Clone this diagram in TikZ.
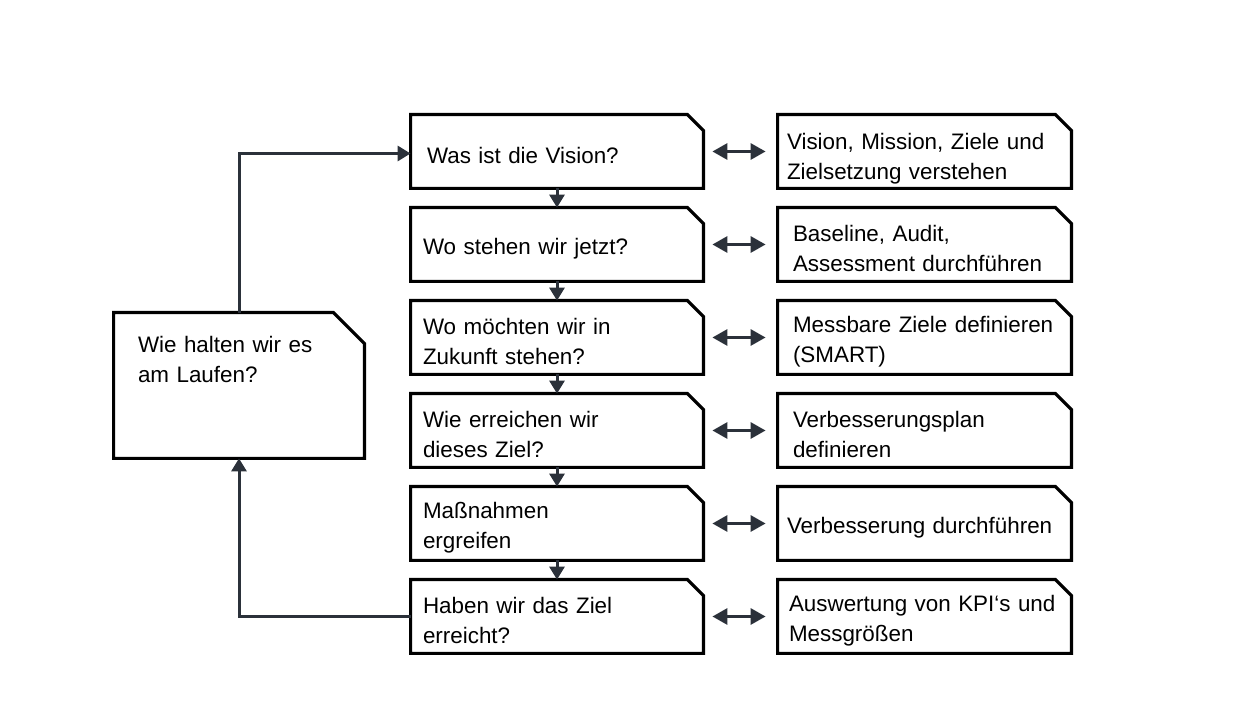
\documentclass[tikz,border=0pt]{standalone}
\usepackage{fontspec}
\setmainfont{Liberation Sans}
\usetikzlibrary{arrows.meta}
\definecolor{arrowgray}{HTML}{2B313A}
\tikzset{
	textbox/.style={rectangle, inner ysep=3pt, align=left,
		font=\fontsize{11.2}{15}\selectfont},
	qbox/.style={textbox, minimum width=146pt, minimum height=36.5pt, text width=134pt,
		inner xsep=6pt, execute at begin node={\rule{0pt}{12pt}}},
	abox/.style={qbox, minimum width=146.5pt, text width=137.5pt, inner xsep=4.5pt},
	hbox/.style={textbox, minimum width=125pt, minimum height=72.5pt, text width=101pt,
		inner xsep=12pt},
	outline/.style={draw=black, line width=1.6pt, line join=miter},
	down/.style={draw=arrowgray, line width=1.5pt, -{Triangle[width=7.5pt,length=6.5pt]}},
	both/.style={draw=arrowgray, line width=1.5pt,
		{Triangle[width=8pt,length=7.5pt]}-{Triangle[width=8pt,length=7.5pt]},
		shorten <=4.5pt, shorten >=6pt},
}
\begin{document}
\begin{tikzpicture}[x=0.5pt,y=-0.5pt]
		\useasboundingbox (0,0) rectangle (1260,705);
		
		\node[qbox] (B1) at (557,151.5) {\hspace*{2pt}Was ist die Vision?};
		\node[qbox] (B2) at (557,244.5) {Wo stehen wir jetzt?};
		\node[qbox] (B3) at (557,337.5) {Wo möchten wir in\\Zukunft stehen?};
		\node[qbox] (B4) at (557,430.5) {Wie erreichen wir\\dieses Ziel?};
		\node[qbox] (B5) at (557,523.5) {Maßnahmen\\ergreifen};
		\node[qbox] (B6) at (557,616.5) {Haben wir das Ziel\\erreicht?};
		
		\node[abox, inner ysep=1pt] (A1) at (924.5,151.5) {\rule{0pt}{15pt}Vision, Mission, Ziele und\\Zielsetzung verstehen};
		\node[abox] (A2) at (924.5,244.5) {\hspace*{3pt}Baseline, Audit,\\\hspace*{3pt}Assessment durchführen};
		\node[abox] (A3) at (924.5,337.5) {\hspace*{3pt}Messbare Ziele definieren\\\hspace*{3pt}(SMART)};
		\node[abox] (A4) at (924.5,430.5) {\hspace*{3pt}Verbesserungsplan\\\hspace*{3pt}definieren};
		\node[abox] (A5) at (924.5,523.5) {Verbesserung durchführen};
		\node[abox] (A6) at (924.5,616.5) {\hspace*{1pt}Auswertung von KPI‘s und\\\hspace*{1pt}Messgrößen};
		
		\node[hbox] (H) at (239,385.5) {Wie halten wir es\\am Laufen?\\[11pt]\mbox{}};
		
		% cut corner outlines
		\foreach \n in {B1,B2,B3,B4,B5,B6,A1,A2,A3,A4,A5,A6}
		\draw[outline] (\n.north west) -- ([xshift=-8pt]\n.north east)
			-- ([yshift=-8pt]\n.north east) -- (\n.south east) -- (\n.south west) -- cycle;
		\draw[outline] (H.north west) -- ([xshift=-15.5pt]H.north east)
			-- ([yshift=-15.5pt]H.north east) -- (H.south east) -- (H.south west) -- cycle;
		
		\path (B1) edge[down] (B2);
		\path (B2) edge[down] (B3);
		\path (B3) edge[down] (B4);
		\path (B4) edge[down] (B5);
		\path (B5) edge[down] (B6);
		
		\path (B1) edge[both] (A1);
		\path (B2) edge[both] (A2);
		\path (B3) edge[both] (A3);
		\path (B4) edge[both] (A4);
		\path (B5) edge[both] (A5);
		\path (B6) edge[both] (A6);
		
		\draw[down] (H.north) |- ([yshift=-1pt]B1.west);
		\draw[down] (B6.west) -| (H.south);
		\end{tikzpicture}
\end{document}
